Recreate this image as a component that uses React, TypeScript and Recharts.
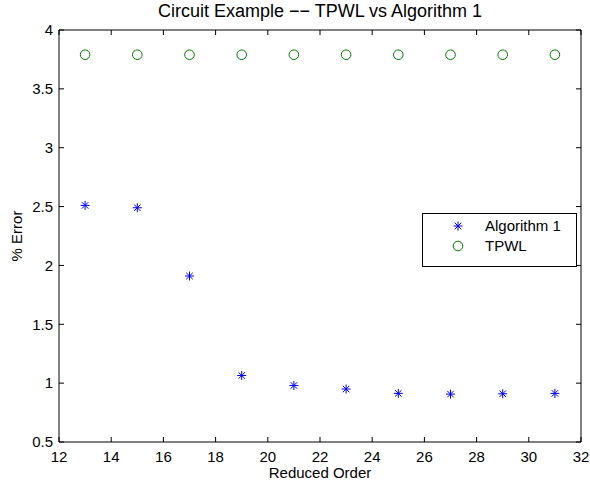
import { ScatterChart, Scatter, XAxis, YAxis, Legend } from "recharts";

const orders = [13, 15, 17, 19, 21, 23, 25, 27, 29, 31];
const algorithm1 = [2.51, 2.49, 1.91, 1.065, 0.98, 0.95, 0.913, 0.907, 0.91, 0.913];
const tpwl = [3.79, 3.79, 3.79, 3.79, 3.79, 3.79, 3.79, 3.79, 3.79, 3.79];

const xTicks = [12, 14, 16, 18, 20, 22, 24, 26, 28, 30, 32];
const yTicks = [0.5, 1, 1.5, 2, 2.5, 3, 3.5, 4];

const algData = orders.map((x, i) => ({ x, y: algorithm1[i] }));
const tpwlData = orders.map((x, i) => ({ x, y: tpwl[i] }));

const FONT = "'Liberation Sans', Arial, Helvetica, sans-serif";

function Star({ cx, cy }: any) {
  const r = 4.5;
  const d = r * 0.72;
  return (
    <g stroke="#0000ff" strokeWidth={1}>
      <line x1={cx - r} y1={cy} x2={cx + r} y2={cy} />
      <line x1={cx} y1={cy - r} x2={cx} y2={cy + r} />
      <line x1={cx - d} y1={cy - d} x2={cx + d} y2={cy + d} />
      <line x1={cx - d} y1={cy + d} x2={cx + d} y2={cy - d} />
    </g>
  );
}

function Ring({ cx, cy }: any) {
  return <circle cx={cx} cy={cy} r={4.8} fill="none" stroke="#008000" strokeWidth={1} />;
}

function LegendBox() {
  const row = (top: number, marker: any, text: string) => (
    <div style={{ position: "absolute", left: 0, top: top - 9, height: 18, width: "100%" }}>
      <svg width={18} height={18} style={{ position: "absolute", left: 26, top: 0 }}>
        {marker}
      </svg>
      <span style={{ position: "absolute", left: 62, top: 0, lineHeight: "18px", fontSize: 15, color: "#000" }}>
        {text}
      </span>
    </div>
  );
  return (
    <div
      style={{
        position: "relative",
        width: 155,
        height: 54,
        boxSizing: "border-box",
        border: "1px solid #000",
        background: "#fff",
        fontFamily: FONT,
      }}
    >
      {row(12, <Star cx={9} cy={9} />, "Algorithm 1")}
      {row(32, <Ring cx={9} cy={9} />, "TPWL")}
    </div>
  );
}

export default function App() {
  return (
    <div style={{ fontFamily: FONT }}>
      <style>{"body{margin:0}"}</style>
      <ScatterChart
        width={590}
        height={488}
        margin={{ top: 29, right: 8, bottom: 6, left: 9 }}
        style={{ background: "#fff" }}
      >
        <XAxis
          type="number"
          dataKey="x"
          domain={[12, 32]}
          ticks={xTicks}
          allowDataOverflow
          height={40}
          tickSize={-5}
          tickMargin={14}
          stroke="#000"
          tick={{ fill: "#000", fontSize: 15 }}
          label={{ value: "Reduced Order", position: "insideBottom", offset: 4, fill: "#000", fontSize: 15 }}
        />
        <XAxis
          xAxisId="top"
          orientation="top"
          type="number"
          dataKey="x"
          domain={[12, 32]}
          ticks={xTicks}
          allowDataOverflow
          height={1}
          tickSize={-5}
          tick={{ fill: "none", fontSize: 1 }}
          stroke="#000"
          label={{
            value: "Circuit Example \u2212\u2212 TPWL vs Algorithm 1",
            position: "top",
            offset: 12,
            fill: "#000",
            fontSize: 18,
          }}
        />
        <YAxis
          type="number"
          dataKey="y"
          domain={[0.5, 4]}
          ticks={yTicks}
          allowDataOverflow
          width={50}
          tickSize={-5}
          tickMargin={11}
          stroke="#000"
          tick={{ fill: "#000", fontSize: 15 }}
          label={() => (
            <text transform="translate(22,236) rotate(-90)" textAnchor="middle" fill="#000" fontSize={15}>
              % Error
            </text>
          )}
        />
        <YAxis
          yAxisId="right"
          orientation="right"
          type="number"
          dataKey="y"
          domain={[0.5, 4]}
          ticks={yTicks}
          allowDataOverflow
          width={1}
          tickSize={-5}
          tick={{ fill: "none", fontSize: 1 }}
          stroke="#000"
        />
        <Legend
          layout="horizontal"
          verticalAlign="middle"
          align="center"
          wrapperStyle={{ left: 422, top: 213, width: 155, height: 54 }}
          content={() => <LegendBox />}
        />
        <Scatter name="Algorithm 1" data={algData} shape={<Star />} isAnimationActive={false} />
        <Scatter
          name="TPWL"
          data={tpwlData}
          xAxisId="top"
          yAxisId="right"
          shape={<Ring />}
          isAnimationActive={false}
        />
      </ScatterChart>
    </div>
  );
}
